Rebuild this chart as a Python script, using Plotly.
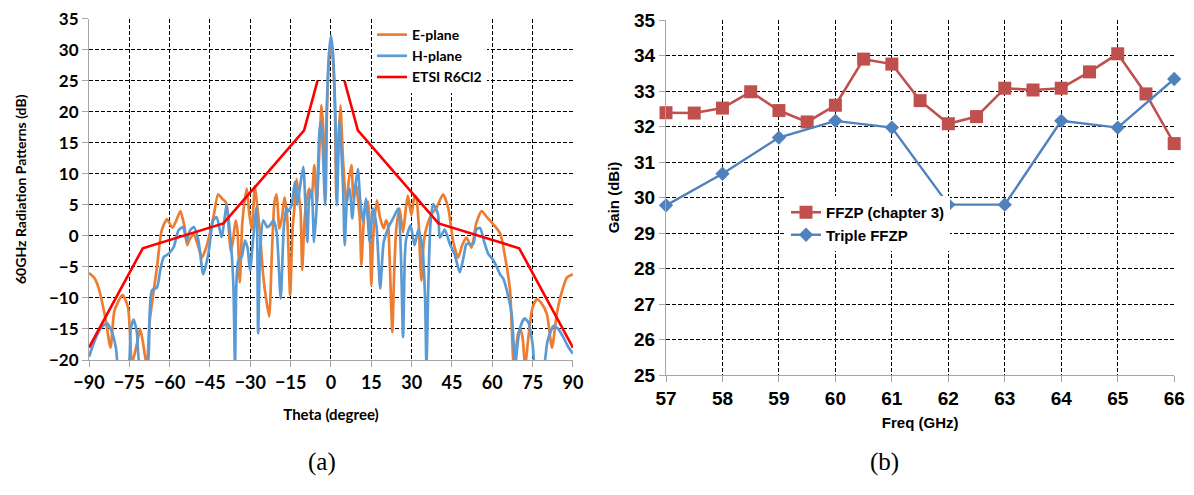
import plotly.graph_objects as go

# ---------------- (a) radiation patterns ----------------
e_theta = [-90, -88, -86.5, -84, -82, -80.5, -77.5, -75.5, -74, -72, -71, -70, -68.5, -67.5, -66, -64.7, -63, -61, -59,
           -57.5, -56, -54.5, -53.5, -52.5, -51, -49.5, -48, -46.5, -45, -43.5, -42, -40.5, -39, -38, -37.3, -36.5,
           -35.5, -34.8, -33.9, -33, -32, -31.3, -30.5, -29.5, -28.3, -27.5, -26.5, -25.5, -24.5, -23, -22, -21,
           -20.2, -19.2, -18.2, -17.3, -16.3, -15.2, -14.3, -13.5, -12.8, -11.8, -11.3, -10.7, -9.9, -9, -8.1, -7.2,
           -6.2, -5.3, -4.5, -3.5, -2.6, -2, -1.5, -0.8, 0, 0.8, 1.5, 2, 2.7, 3.5, 4.5, 5.7, 6.7, 7.6, 8.4, 9.4,
           10.2, 10.7, 11.3, 12, 12.5, 13.8, 14.5, 15, 15.6, 16.2, 17.1, 18.3, 19.6, 20.5, 21.2, 22, 22.8, 23.5,
           24.3, 25.5, 26.8, 28, 28.6, 29.9, 31.1, 31.8, 32.6, 33.6, 34.5, 35.5, 37.4, 39.2, 41.7, 43.6, 45.5, 47.3,
           48.8, 50.4, 52.3, 54, 56, 58, 60.5, 63, 65, 66.6, 68, 69.5, 70.4, 71.3, 72.2, 73.5, 75, 76.6, 78.5, 80.3,
           82.2, 84, 85.3, 87.8, 90]
e_db = [-6, -6.8, -8.3, -13, -18, -12, -9.5, -11.5, -20.5, -17, -15, -17, -21, -14, -9, -5, 0.8, 2.7, 1.3,
        2.5, 4, 1.5, -1.5, -0.5, 0.2, -1.5, -3.5, -2, 0.5, 3.5, 6.7, 6, 5.3, 1, -2.5, -1,
        2.5, 1, -7.5, 2, 6, 7.6, 4, 1, 8, 5, 1, -5, -9, -13, -3, 5.5,
        6.7, 1.2, 3, 6.2, 3, -9.5, 1, 5, 9.2, 6, 4, -5.5, 2, 6, 7.6, 6,
        11.4, 5, 12, 21, 15, 6, 20, 28, 31.5, 28, 20, 6, 15, 21, 12, 5, 9.2, 11.4, 6, 8.2,
        5, 3, -4.7, 1, 3.9, 5.5, 0, -8, -1, 2.8, 5.7, 2.8, 1.2, 2.5, 1.7, -6, -15.5, -6,
        1.2, 4.4, 0.6, 5, 6.5, 3.3, 6.5, 6, 2, -7.2, -1, 1.3, 3.5, 4.5, 6.7, 4.5, -1, -3.5,
        -1.5, -0.3, -1.9, 2, 4, 3, 1.8, 0.3, -4, -8.8, -21, -16, -15, -16.5, -21, -16, -11.5, -10.2, -11, -12.6,
        -18, -12.5, -9.9, -6.7, -6.2]

h_theta = [-90, -88, -85.5, -83.3, -81.5, -80, -79, -75.5, -74.5, -73.4, -72.2, -71, -68.4, -67.5, -66.6, -64.7,
           -63.5, -62.2, -60.4, -58.5, -56.7, -55, -53.7, -52.4, -51, -49.3, -47.5, -45.6, -43.8, -42.5, -40.7,
           -38.8, -37.3, -36.3, -35.7, -35.2, -34.5, -33.2, -32, -31, -30.1, -28.9, -27.7, -27.1, -26.3, -25.2,
           -23.7, -22.7, -21.4, -20.2, -18.7, -17.5, -16.5, -15.9, -14.6, -13.4, -12.5, -11.5, -10.3, -9.5, -8.8,
           -8.1, -7.2, -6.3, -5.3, -4.3, -3.8, -3.1, -2.2, -1.6, -0.7, 0, 0.7, 1.6, 2.2, 3.2, 4.5, 5.1, 6, 7, 7.9,
           8.8, 10, 10.9, 11.9, 13, 14.4, 15.6, 16.9, 18.3, 19.6, 21.2, 23.1, 25, 26, 26.8, 27.5, 28, 29.6, 31.1,
           32.5, 34, 35, 35.5, 36.2, 37, 38, 39.8, 40.5, 42.3, 44.2, 46, 47.9, 49.5, 50.4, 52.9, 54, 55.4, 57,
           58.5, 60.5, 62.9, 64.2, 65.4, 67.2, 68.5, 69.5, 70.4, 72, 73.5, 75, 76, 79, 80.5, 82.8, 84.5, 86.5, 88, 90]
h_db = [-19.5, -17, -14.8, -14.1, -15.5, -18, -21, -21, -15, -13.5, -15.5, -21, -21, -13, -8.8, -8.3,
        -5.5, -3.4, -2.9, -1.8, 0.9, 1.4, -0.75, 0.9, 1.4, -0.75, -6.2, -2.9, 2.5, 3, -0.2,
        4.9, -0.75, -8, -21, -8, -4, -3.4, -0.75, -2, -5.6, -0.2, 4.6, -15.7, -2, 2.5,
        1.4, 1.7, 2.5, 0.6, -10.1, 1.7, 4.5, 3.9, 5, 8.7, 5, 8, 11.1, 5, -1,
        6, 7.3, -1, 5, 16.7, 18.4, 14.6, 5, 20, 29.6, 32.2, 29.6, 20, 5, 18.4, 7.6, -1.5, 6, 7.6, 2.8,
        7.1, 10.8, 5.5, 2.3, 6, -1, 4.4, 1.7, -8.5, -1, 1.2, 2.8, 4.4, -3, -16.3, -3, -0.4, 1.7, -1.5,
        1, -2, -10, -21, -8, 2, 5.1, 3.5, -0.3, 1, -1.3, -3, -5.9, -3, -1.3, -1.3, 1, 1.3, -1,
        -2.9, -4, -6.2, -7, -8.8, -12.6, -21, -17, -14.7, -13.3, -14, -17.5, -21, -21, -17, -14.5, -15, -16.4, -17.7, -19]

etsi_theta = [-90, -70, -40, -10, -5, None, 5, 10, 40, 70, 90]
etsi_db = [-18, -2, 2, 17, 25, None, 25, 17, 2, -2, -18]

theta_ticks = [-90, -75, -60, -45, -30, -15, 0, 15, 30, 45, 60, 75, 90]
db_ticks = [-20, -15, -10, -5, 0, 5, 10, 15, 20, 25, 30, 35]

# ---------------- (b) gain vs frequency ----------------
ffzp_freq = [57, 57.5, 58, 58.5, 59, 59.5, 60, 60.5, 61, 61.5, 62, 62.5, 63, 63.5, 64, 64.5, 65, 65.5, 66]
ffzp_gain = [32.39, 32.38, 32.52, 32.98, 32.45, 32.13, 32.6, 33.9, 33.76, 32.73, 32.08, 32.28, 33.08, 33.03,
             33.08, 33.54, 34.05, 32.92, 31.52]
triple_freq = [57, 58, 59, 60, 61, 62, 63, 64, 65, 66]
triple_gain = [29.78, 30.67, 31.69, 32.16, 31.97, 29.8, 29.8, 32.16, 31.97, 33.34]

freq_ticks = [57, 58, 59, 60, 61, 62, 63, 64, 65, 66]
gain_ticks = [25, 26, 27, 28, 29, 30, 31, 32, 33, 34, 35]

# page is 1194x495; html body has an 8px margin, so the figure is sized to fit inside it
PW, PH, OFF = 1194, 495, 8
W, H = PW - 2 * OFF, PH - 2 * OFF


def fx(px):
    return (px - OFF) / W


def fy(py):
    return 1 - (py - OFF) / H


LFONT = "Lato"
RFONT = "Liberation Sans"

fig = go.Figure()
fig.add_trace(go.Scatter(x=e_theta, y=e_db, name="E-plane", mode="lines",
                         line=dict(color="#ED7D31", width=2.7, shape="spline", smoothing=0.6),
                         xaxis="x", yaxis="y", legend="legend"))
fig.add_trace(go.Scatter(x=h_theta, y=h_db, name="H-plane", mode="lines",
                         line=dict(color="#5B9BD5", width=2.7, shape="spline", smoothing=0.6),
                         xaxis="x", yaxis="y", legend="legend"))
fig.add_trace(go.Scatter(x=etsi_theta, y=etsi_db, name="ETSI R6Cl2", mode="lines",
                         line=dict(color="#FF0000", width=2.6),
                         xaxis="x", yaxis="y", legend="legend"))

fig.add_trace(go.Scatter(x=ffzp_freq, y=ffzp_gain, name="FFZP (chapter 3)", mode="lines+markers",
                         line=dict(color="#C0504D", width=2.6),
                         marker=dict(symbol="square", size=13, color="#C0504D"), cliponaxis=False,
                         xaxis="x2", yaxis="y2", legend="legend2"))
fig.add_trace(go.Scatter(x=triple_freq, y=triple_gain, name="Triple FFZP", mode="lines+markers",
                         line=dict(color="#4F81BD", width=2.4),
                         marker=dict(symbol="diamond", size=11, color="#4F81BD"), cliponaxis=False,
                         xaxis="x2", yaxis="y2", legend="legend2"))

grid = dict(showgrid=True, gridcolor="#000000", gridwidth=1, griddash="4px,2px",
            showline=True, linecolor="#A6A6A6", linewidth=1, ticks="outside", ticklen=6,
            tickcolor="#A6A6A6", zeroline=False, automargin=False, ticklabeloverflow="allow")

fig.update_layout(
    width=W, height=H,
    margin=dict(l=0, r=0, t=0, b=0),
    paper_bgcolor="white", plot_bgcolor="white",
    xaxis=dict(domain=[fx(89), fx(573)], range=[-90, 90.01], tickvals=theta_ticks,
               tickfont=dict(family=LFONT, size=18, color="#000000", weight="bold"),
               title=dict(text="Theta (degree)", font=dict(family=LFONT, size=15, color="#000000", weight="bold"),
                          standoff=17),
               anchor="y", **grid),
    yaxis=dict(domain=[fy(360), fy(18.5)], range=[-20, 35.01], tickvals=db_ticks,
               tickfont=dict(family=LFONT, size=17, color="#000000", weight="bold"),
               title=dict(text="60GHz Radiation Patterns (dB)",
                          font=dict(family=LFONT, size=14, color="#000000", weight="bold"), standoff=19),
               anchor="x", **grid),
    xaxis2=dict(domain=[fx(666), fx(1174.3)], range=[57, 66.002], tickvals=freq_ticks,
                tickfont=dict(family=RFONT, size=19, color="#000000", weight="bold"),
                title=dict(text="Freq (GHz)", font=dict(family=RFONT, size=15, color="#000000", weight="bold"),
                           standoff=9),
                anchor="y2", **grid),
    yaxis2=dict(domain=[fy(375), fy(20)], range=[25, 35.002], tickvals=gain_ticks,
                tickfont=dict(family=RFONT, size=19, color="#000000", weight="bold"),
                title=dict(text="Gain (dBi)", font=dict(family=RFONT, size=15, color="#000000", weight="bold"),
                           standoff=10),
                anchor="x2", **grid),
    legend=dict(x=fx(372), y=fy(19), xanchor="left", yanchor="top", bgcolor="white",
                font=dict(family=LFONT, size=14, color="#000000", weight="bold"),
                tracegroupgap=0, itemwidth=30),
    legend2=dict(x=fx(786), y=fy(196), xanchor="left", yanchor="top", bgcolor="white",
                 font=dict(family=RFONT, size=15, color="#000000", weight="bold"),
                 tracegroupgap=0, itemwidth=30),
    annotations=[
        dict(text="(a)", x=fx(322), y=fy(462), xref="paper", yref="paper", showarrow=False,
             xanchor="center", yanchor="middle",
             font=dict(family="Liberation Serif", size=25, color="#000000")),
        dict(text="(b)", x=fx(884), y=fy(462), xref="paper", yref="paper", showarrow=False,
             xanchor="center", yanchor="middle",
             font=dict(family="Liberation Serif", size=25, color="#000000")),
    ],
)

fig.write_html("out.html")
